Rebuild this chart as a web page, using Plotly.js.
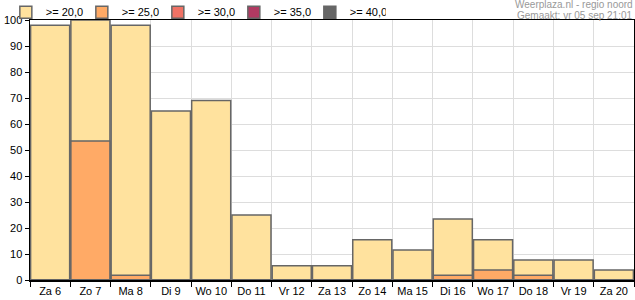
<!DOCTYPE html>
<html><head><meta charset="utf-8">
<script src="https://cdn.plot.ly/plotly-3.0.1.min.js"></script>
<style>html,body{margin:0;padding:0;background:#fff;}#c{width:635px;height:300px;}</style>
</head><body><div id="c"></div>
<script>
const days = ["Za 6","Zo 7","Ma 8","Di 9","Wo 10","Do 11","Vr 12","Za 13","Zo 14","Ma 15","Di 16","Wo 17","Do 18","Vr 19","Za 20"];
const p20 = [98, 100, 98, 65, 69, 25, 5.5, 5.5, 15.5, 11.5, 23.5, 15.5, 7.7, 7.7, 3.8];
const p25 = [0, 53.5, 1.8, 0, 0, 0, 0, 0, 0, 0, 1.8, 3.8, 1.8, 0, 0];
const p30 = [0,0,0,0,0,0,0,0,0,0,0,0,0,0,0];
const p35 = [0,0,0,0,0,0,0,0,0,0,0,0,0,0,0];
const p40 = [0,0,0,0,0,0,0,0,0,0,0,0,0,0,0];
const names = [">= 20,0", ">= 25,0", ">= 30,0", ">= 35,0", ">= 40,0"];
const colors = ["#FFE29E", "#FFAA66", "#F07265", "#B03A62", "#666666"];
const series = [p20, p25, p30, p35, p40];

const traces = series.map((v, i) => ({
  type: "bar", x: days, y: v, name: names[i],
  marker: {color: colors[i], line: {color: "#666", width: 1.5}},
  hoverinfo: "skip"
}));

const layout = {
  width: 635, height: 300,
  margin: {l: 30, r: 1, t: 20, b: 20, autoexpand: false},
  paper_bgcolor: "#fff", plot_bgcolor: "#fff",
  barmode: "overlay", bargap: 0.03,
  font: {family: "Liberation Sans, Arial, sans-serif", size: 11, color: "#000"},
  showlegend: true,
  legend: {orientation: "h", x: -0.04, xanchor: "left", y: 1.03, yanchor: "middle",
    entrywidth: 31, entrywidthmode: "pixels", traceorder: "normal",
    font: {size: 11}, itemwidth: 30, bgcolor: "rgba(0,0,0,0)"},
  xaxis: {type: "category", tickson: "boundaries", ticks: "outside", ticklen: 5,
    tickcolor: "#000", tickangle: 0, showgrid: true, gridcolor: "#dddddd", gridwidth: 1,
    showline: true, linecolor: "#000", linewidth: 1.5, mirror: true,
    tickfont: {size: 11}, fixedrange: true},
  yaxis: {range: [0, 100], dtick: 10, ticks: "outside", ticklen: 4, tickcolor: "#000",
    showgrid: true, gridcolor: "#dddddd", gridwidth: 1, zeroline: false,
    showline: true, linecolor: "#000", linewidth: 1.5, mirror: true,
    tickfont: {size: 11}, fixedrange: true},
  annotations: [
    {xref: "paper", yref: "paper", x: 1, y: 1.06, xanchor: "right", yanchor: "middle",
     text: "Weerplaza.nl - regio noord", showarrow: false, borderpad: 0,
     font: {size: 10, color: "#999"}},
    {xref: "paper", yref: "paper", x: 1, y: 1.018, xanchor: "right", yanchor: "middle",
     text: "Gemaakt: vr 05 sep 21:01", showarrow: false, borderpad: 0,
     font: {size: 10, color: "#999"}}
  ]
};
Plotly.newPlot("c", traces, layout, {displayModeBar: false, staticPlot: true});
</script></body></html>
